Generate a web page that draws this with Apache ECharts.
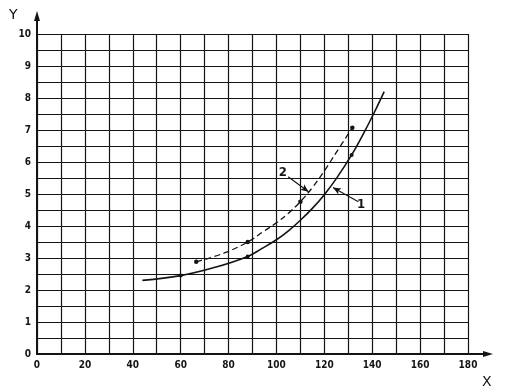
<!DOCTYPE html>
<html>
<head>
<meta charset="utf-8">
<script src="https://cdn.jsdelivr.net/npm/echarts@6/dist/echarts.min.js"></script>
<style>
html,body{margin:0;padding:0;background:#fff;}
#c{width:509px;height:390px;}
</style>
</head>
<body>
<div id="c"></div>
<script>
// ---- data ----
const xTicks = [0, 20, 40, 60, 80, 100, 120, 140, 160, 180];
const yTicks = [0, 1, 2, 3, 4, 5, 6, 7, 8, 9, 10];
const curve1X = [44, 60, 74, 88, 94, 100, 105, 110, 115, 120, 125, 131.4, 137, 141, 145];
const curve1Y = [2.30, 2.45, 2.70, 3.05, 3.30, 3.57, 3.85, 4.18, 4.55, 4.98, 5.48, 6.22, 6.98, 7.57, 8.20];
const curve2X = [66.5, 78, 88, 95, 100, 105, 110, 115, 120, 125, 131.7];
const curve2Y = [2.88, 3.15, 3.50, 3.85, 4.10, 4.40, 4.76, 5.20, 5.72, 6.30, 7.07];
const dots1X = [60, 88, 131.4];
const dots1Y = [2.45, 3.05, 6.22];
const dots2X = [66.5, 88, 110, 131.7];
const dots2Y = [2.88, 3.50, 4.76, 7.07];
const curveNames = ['1', '2'];
// annotation leaders (data units): label point, leader start, leader end (on curve)
const label1 = [135.3, 4.66], leader1From = [134.2, 4.76], leader1To = [123.6, 5.2];
const label2 = [102.7, 5.66], leader2From = [104.9, 5.54], leader2To = [113.4, 5.07];

const zip = (xs, ys) => xs.map((x, i) => [x, ys[i]]);
const INK = '#141414';
const FONT = '"Liberation Sans Narrow","DejaVu Sans Condensed","Liberation Sans",sans-serif';

const G = {left: 37, top: 34, width: 431, height: 320};

const chart = echarts.init(document.getElementById('c'), null, {renderer: 'canvas'});
chart.setOption({
  animation: false,
  backgroundColor: '#fff',
  grid: {left: G.left, top: G.top, width: G.width, height: G.height, containLabel: false},
  xAxis: {
    type: 'value', min: 0, max: 180, interval: 10,
    axisLine: {show: true, lineStyle: {color: INK, width: 2}},
    axisTick: {show: false},
    splitLine: {show: true, lineStyle: {color: INK, width: 1.2}},
    axisLabel: {
      margin: 6, color: INK, fontFamily: FONT, fontWeight: 'bold', fontSize: 10,
      formatter: v => xTicks.includes(v) ? String(v) : ''
    }
  },
  yAxis: {
    type: 'value', min: 0, max: 10, interval: 0.5,
    axisLine: {show: true, lineStyle: {color: INK, width: 2}},
    axisTick: {show: false},
    splitLine: {show: true, lineStyle: {color: INK, width: 1.2}},
    axisLabel: {
      margin: 6, color: INK, fontFamily: FONT, fontWeight: 'bold', fontSize: 10,
      formatter: v => yTicks.includes(v) ? String(v) : ''
    }
  },
  series: [
    {
      name: curveNames[0], type: 'line', data: zip(curve1X, curve1Y),
      smooth: 0.4, showSymbol: false, z: 5,
      lineStyle: {color: INK, width: 1.6},
      markLine: {
        silent: true, symbol: ['none', 'arrow'], symbolSize: [5, 8],
        lineStyle: {color: INK, width: 1.1, type: 'solid'},
        label: {show: false},
        data: [[{coord: leader1From}, {coord: leader1To}]]
      }
    },
    {
      name: curveNames[1], type: 'line', data: zip(curve2X, curve2Y),
      smooth: 0.4, showSymbol: false, z: 5,
      lineStyle: {color: INK, width: 1.3, type: [6, 3.5]},
      markLine: {
        silent: true, symbol: ['none', 'arrow'], symbolSize: [5, 8],
        lineStyle: {color: INK, width: 1.1, type: 'solid'},
        label: {show: false},
        data: [[{coord: leader2From}, {coord: leader2To}]]
      }
    },
    {
      type: 'scatter', data: zip(dots1X, dots1Y), symbolSize: 4, z: 6,
      itemStyle: {color: INK, opacity: 1}
    },
    {
      type: 'scatter', data: zip(dots2X, dots2Y), symbolSize: 4.5, z: 6,
      itemStyle: {color: INK, opacity: 1}
    },
    {
      type: 'scatter', symbolSize: 0, z: 7,
      itemStyle: {color: INK, opacity: 1},
      data: [
        {value: label1, name: curveNames[0]},
        {value: label2, name: curveNames[1]}
      ],
      label: {
        show: true, position: 'inside', formatter: p => p.name,
        color: INK, opacity: 1, textBorderWidth: 0, textBorderColor: 'transparent',
        fontFamily: '"DejaVu Sans Condensed","Liberation Sans",sans-serif',
        fontWeight: 'bold', fontSize: 13
      }
    }
  ]
});

// axis extensions with arrows and axis names (layout, not data)
const x0 = G.left, y0 = G.top + G.height, xEnd = G.left + G.width;
chart.setOption({
  graphic: [
    {type: 'line', shape: {x1: xEnd, y1: y0, x2: 488, y2: y0}, style: {stroke: INK, lineWidth: 2}, z: 10},
    {type: 'polygon', shape: {points: [[493, y0], [483, y0 - 3], [483, y0 + 3]]}, style: {fill: INK}, z: 10},
    {type: 'line', shape: {x1: x0, y1: G.top, x2: x0, y2: 17}, style: {stroke: INK, lineWidth: 2}, z: 10},
    {type: 'polygon', shape: {points: [[x0, 11], [x0 - 3, 21], [x0 + 3, 21]]}, style: {fill: INK}, z: 10},
    {type: 'text', x: 9, y: 8, style: {text: 'Y', fill: INK, font: '14px "DejaVu Sans", sans-serif'}},
    {type: 'text', x: 482, y: 375, style: {text: 'X', fill: INK, font: '14px "DejaVu Sans", sans-serif'}}
  ]
});
</script>
</body>
</html>
